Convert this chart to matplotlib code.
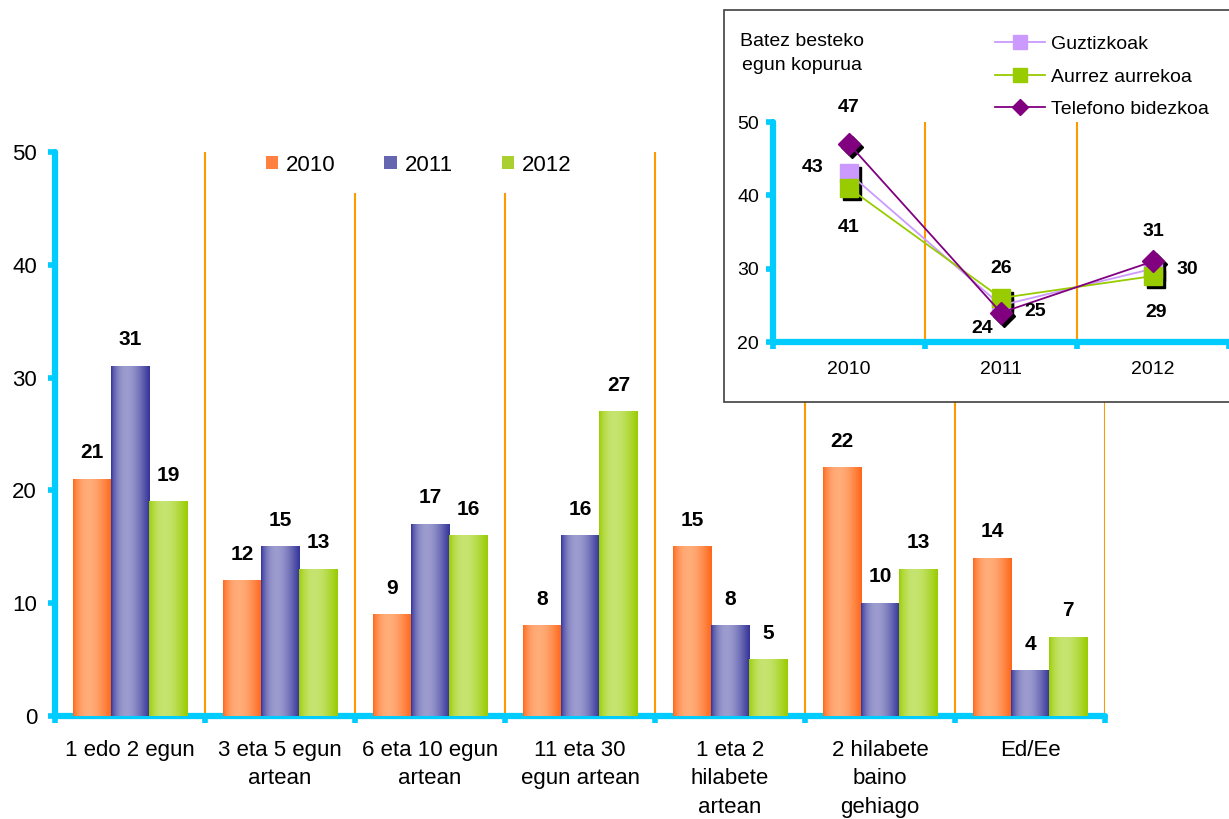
"""
Bar chart of days per category (2010-2012) with inset line chart of averages.
"""

import matplotlib

matplotlib.use("Agg")
import matplotlib.pyplot as plt
import matplotlib.transforms as mtransforms
import numpy as np
from matplotlib.colors import to_rgb
from matplotlib.lines import Line2D
from matplotlib.patches import Patch, Rectangle

plt.rcParams["font.family"] = ["Liberation Sans", "DejaVu Sans"]

categories = [
    "1 edo 2 egun",
    "3 eta 5 egun\nartean",
    "6 eta 10 egun\nartean",
    "11 eta 30\negun artean",
    "1 eta 2\nhilabete\nartean",
    "2 hilabete\nbaino\ngehiago",
    "Ed/Ee",
]
years = ["2010", "2011", "2012"]
vals_2010 = [21, 12, 9, 8, 15, 22, 14]
vals_2011 = [31, 15, 17, 16, 8, 10, 4]
vals_2012 = [19, 13, 16, 27, 5, 13, 7]

inset_years = ["2010", "2011", "2012"]
guztizkoak = [43, 25, 30]
aurrez_aurrekoa = [41, 26, 29]
telefono = [47, 24, 31]

CYAN = "#00CCFF"
GRID = "#FF9900"

# (edge colour, highlight colour, legend colour)
bar_styles = [
    ("#FF6619", "#FFAD7A", "#FF8040"),
    ("#333399", "#9C9CCF", "#6666B0"),
    ("#99CC00", "#C6E470", "#AAD030"),
]


def cylinder(edge, mid, n=80):
    t = np.linspace(0, 1, n)
    w = np.sin(np.pi * t ** 0.756)
    e = np.array(to_rgb(edge))
    m = np.array(to_rgb(mid))
    row = e + (m - e) * w[:, None]
    return row[None, :, :]


def style_axis(ax, lw, pad_x, pad_y, size):
    for side in ["top", "right"]:
        ax.spines[side].set_visible(False)
    for side in ["left", "bottom"]:
        ax.spines[side].set_color(CYAN)
        ax.spines[side].set_linewidth(lw)
        ax.spines[side].set_capstyle("round")
    ax.tick_params(axis="both", which="major", color=CYAN, width=lw * 0.9,
                   length=5, direction="out", labelsize=size)
    ax.tick_params(axis="y", pad=pad_y)
    ax.tick_params(axis="x", which="minor", length=0, pad=pad_x, labelsize=size)
    ax.tick_params(axis="x", which="major", labelbottom=False)


fig = plt.figure(figsize=(12.29, 8.19), dpi=100)

# ---- main bar chart ----
ax = fig.add_axes([0.0448, 0.1258, 0.8544, 0.6886])
ax.set_zorder(0)
n = len(categories)
centers = np.arange(n) + 0.5
bw = 0.255
series = [vals_2010, vals_2011, vals_2012]

for k, vals in enumerate(series):
    edge, mid, leg = bar_styles[k]
    bars = ax.bar(centers + (k - 1) * bw, vals, bw, color=mid, zorder=2)
    img = cylinder(edge, mid)
    for rect, v in zip(bars, vals):
        x0 = rect.get_x()
        ax.imshow(img, extent=(x0, x0 + rect.get_width(), 0, rect.get_height()),
                  aspect="auto", interpolation="bilinear", zorder=3)
        ax.annotate(str(v), (x0 + rect.get_width() / 2, v), xytext=(0, 19),
                    textcoords="offset points", ha="center", va="center",
                    fontsize=15, fontweight="bold", zorder=4)

ax.vlines(np.arange(1, n + 1), 0, 50, color=GRID, lw=1.5, zorder=1)
ax.set_xlim(0, n)
ax.set_ylim(0, 50)
ax.set_yticks(range(0, 51, 10))
ax.set_xticks(range(0, n + 1))
ax.set_xticks(centers, minor=True)
ax.set_xticklabels(categories, minor=True, linespacing=1.48)
style_axis(ax, 4.5, 17, 8, 16)

handles = [Patch(facecolor=s[2], edgecolor="none") for s in bar_styles]
ax.legend(handles, years, ncol=3, loc="center", bbox_to_anchor=(0.3405, 0.7985),
          bbox_transform=fig.transFigure, fontsize=16, frameon=True,
          facecolor="white", edgecolor="none", framealpha=1, fancybox=False,
          borderpad=0.8, handlelength=0.55, handleheight=0.55,
          handletextpad=0.36, columnspacing=2.2)

# ---- inset box ----
box = Rectangle((0.589, 0.509), 0.43, 0.479, transform=fig.transFigure,
                facecolor="white", edgecolor="#404040", lw=1.2, zorder=1)
fig.patches.append(box)

ins = fig.add_axes([0.629, 0.5824, 0.371, 0.2686])
ins.set_zorder(2)
ins.patch.set_alpha(0)
xi = np.arange(len(inset_years)) + 0.5
ins.vlines([1, 2], 20, 50, color=GRID, lw=1.5, zorder=1)

shadow = mtransforms.offset_copy(ins.transData, fig=fig, x=3, y=-3, units="dots")
line_series = [
    ("Guztizkoak", guztizkoak, "#CC99FF", "s", 12.5),
    ("Aurrez aurrekoa", aurrez_aurrekoa, "#99CC00", "s", 12.5),
    ("Telefono bidezkoa", telefono, "#800080", "D", 11.5),
]
leg_handles = []
for name, vals, col, mk, ms in line_series:
    ins.plot(xi, vals, ls="none", marker=mk, ms=ms, color="black",
             transform=shadow, zorder=2)
for name, vals, col, mk, ms in line_series:
    ins.plot(xi, vals, color=col, lw=1.3, marker=mk, ms=ms, zorder=3)
    leg_handles.append(Line2D([], [], color=col, lw=1.3, marker=mk, ms=ms * 0.75))

# label offsets in pixels for each series / year
offsets = {
    "Guztizkoak": [(-36, 6), (34, -6), (34, -1)],
    "Aurrez aurrekoa": [(0, -39), (0, 30), (3, -36)],
    "Telefono bidezkoa": [(0, 37), (-19, -16), (0, 30)],
}
for name, vals, col, mk, ms in line_series:
    for x, v, off in zip(xi, vals, offsets[name]):
        ins.annotate(str(v), (x, v), xytext=(off[0] * 0.72, off[1] * 0.72),
                     textcoords="offset points", ha="center", va="center",
                     fontsize=14, fontweight="bold", zorder=5)

ins.set_xlim(0, 3)
ins.set_ylim(20, 50)
ins.set_yticks(range(20, 51, 10))
ins.set_xticks(range(0, 4))
ins.set_xticks(xi, minor=True)
ins.set_xticklabels(inset_years, minor=True)
style_axis(ins, 4.5, 14, 5, 14)

ins.legend(leg_handles, [s[0] for s in line_series], loc="upper left",
           bbox_to_anchor=(985 / 1229, 0.969), bbox_transform=fig.transFigure,
           frameon=False, fontsize=14, borderpad=0, handlelength=2.6,
           handletextpad=0.3, labelspacing=0.78)

fig.text(0.6526, 0.9347, "Batez besteko\negun kopurua", ha="center", va="center",
         fontsize=14, linespacing=1.6, zorder=5)

fig.savefig("out.png", dpi=100)
